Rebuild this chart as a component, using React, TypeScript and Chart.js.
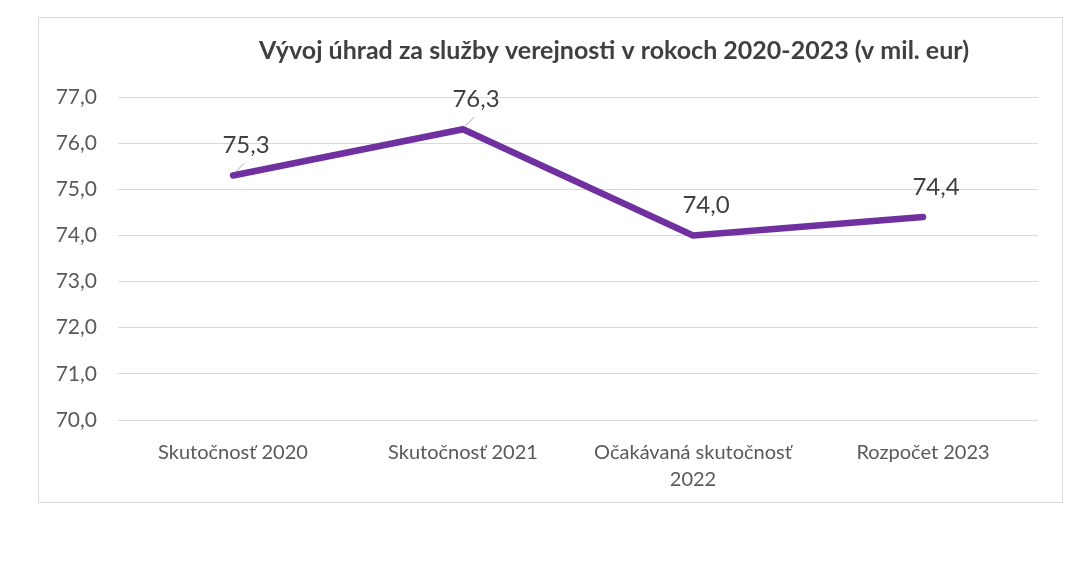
import React, { useEffect, useRef } from "react";
import { Chart, registerables } from "chart.js";

Chart.register(...registerables);

const title = "Vývoj úhrad za služby verejnosti v rokoch 2020-2023 (v mil. eur)";
const categories: (string | string[])[] = [
  "Skutočnosť 2020",
  "Skutočnosť 2021",
  ["Očakávaná skutočnosť", "2022"],
  "Rozpočet 2023",
];
const values = [75.3, 76.3, 74.0, 74.4];
const yMin = 70;
const yMax = 77;
const yStep = 1;

const FONT = "Lato, 'Open Sans', sans-serif";
const fmt = (v: number) => v.toFixed(1).replace(".", ",");

const titlePlugin = {
  id: "customTitle",
  afterDraw(chart: any) {
    const ctx = chart.ctx;
    ctx.save();
    ctx.font = `bold 25px ${FONT}`;
    ctx.fillStyle = "#404040";
    ctx.textAlign = "center";
    ctx.textBaseline = "middle";
    ctx.fillText(title, 575, 33);
    ctx.restore();
  },
};

const labelPlugin = {
  id: "pointLabels",
  afterDatasetsDraw(chart: any) {
    const ctx = chart.ctx;
    const meta = chart.getDatasetMeta(0);
    const leaders = [0, 1];
    ctx.save();
    meta.data.forEach((pt: any, i: number) => {
      const { x, y } = pt;
      if (leaders.includes(i)) {
        ctx.strokeStyle = "#a6a6a6";
        ctx.lineWidth = 1;
        ctx.beginPath();
        ctx.moveTo(x + 2, y - 3);
        ctx.lineTo(x + 11, y - 12);
        ctx.stroke();
      }
      ctx.font = `24px ${FONT}`;
      ctx.fillStyle = "#404040";
      ctx.textAlign = "center";
      ctx.textBaseline = "middle";
      ctx.fillText(fmt(values[i]), x + 13, y - 30);
    });
    ctx.restore();
  },
};

export default function App() {
  const ref = useRef<HTMLCanvasElement>(null);
  useEffect(() => {
    if (!ref.current) return;
    const chart = new Chart(ref.current, {
      type: "line",
      data: {
        labels: categories,
        datasets: [
          {
            data: values,
            borderColor: "#7030A0",
            borderWidth: 6.5,
            borderCapStyle: "round",
            borderJoinStyle: "round",
            pointRadius: 0,
            pointHoverRadius: 0,
            tension: 0,
            fill: false,
          },
        ],
      },
      options: {
        animation: false,
        responsive: false,
        maintainAspectRatio: false,
        layout: { padding: { top: 79, bottom: 0, left: 0, right: 24 } },
        plugins: {
          legend: { display: false },
          title: { display: false },
          tooltip: { enabled: false },
        },
        scales: {
          x: {
            offset: true,
            grid: { display: false, drawTicks: false },
            border: { display: false },
            ticks: {
              color: "#595959",
              font: { family: FONT, size: 20, lineHeight: 1.35 },
              padding: 19,
              maxRotation: 0,
              autoSkip: false,
            },
            afterFit: (s: any) => {
              s.height = 82;
            },
          },
          y: {
            min: yMin,
            max: yMax,
            grid: { color: "#d9d9d9", lineWidth: 1, drawTicks: false },
            border: { display: false },
            ticks: {
              stepSize: yStep,
              color: "#595959",
              font: { family: FONT, size: 21 },
              padding: 21,
              callback: (v: any) => fmt(Number(v)),
            },
            afterFit: (s: any) => {
              s.width = 79;
            },
          },
        },
      },
      plugins: [titlePlugin, labelPlugin],
    });
    return () => chart.destroy();
  }, []);
  return (
    <div style={{ position: "relative", width: 1073, height: 572 }}>
      <div
        style={{
          position: "absolute",
          left: 30,
          top: 9,
          width: 1023,
          height: 484,
          border: "1px solid #d9d9d9",
        }}
      >
        <canvas ref={ref} width={1023} height={484} style={{ display: "block" }} />
      </div>
    </div>
  );
}
